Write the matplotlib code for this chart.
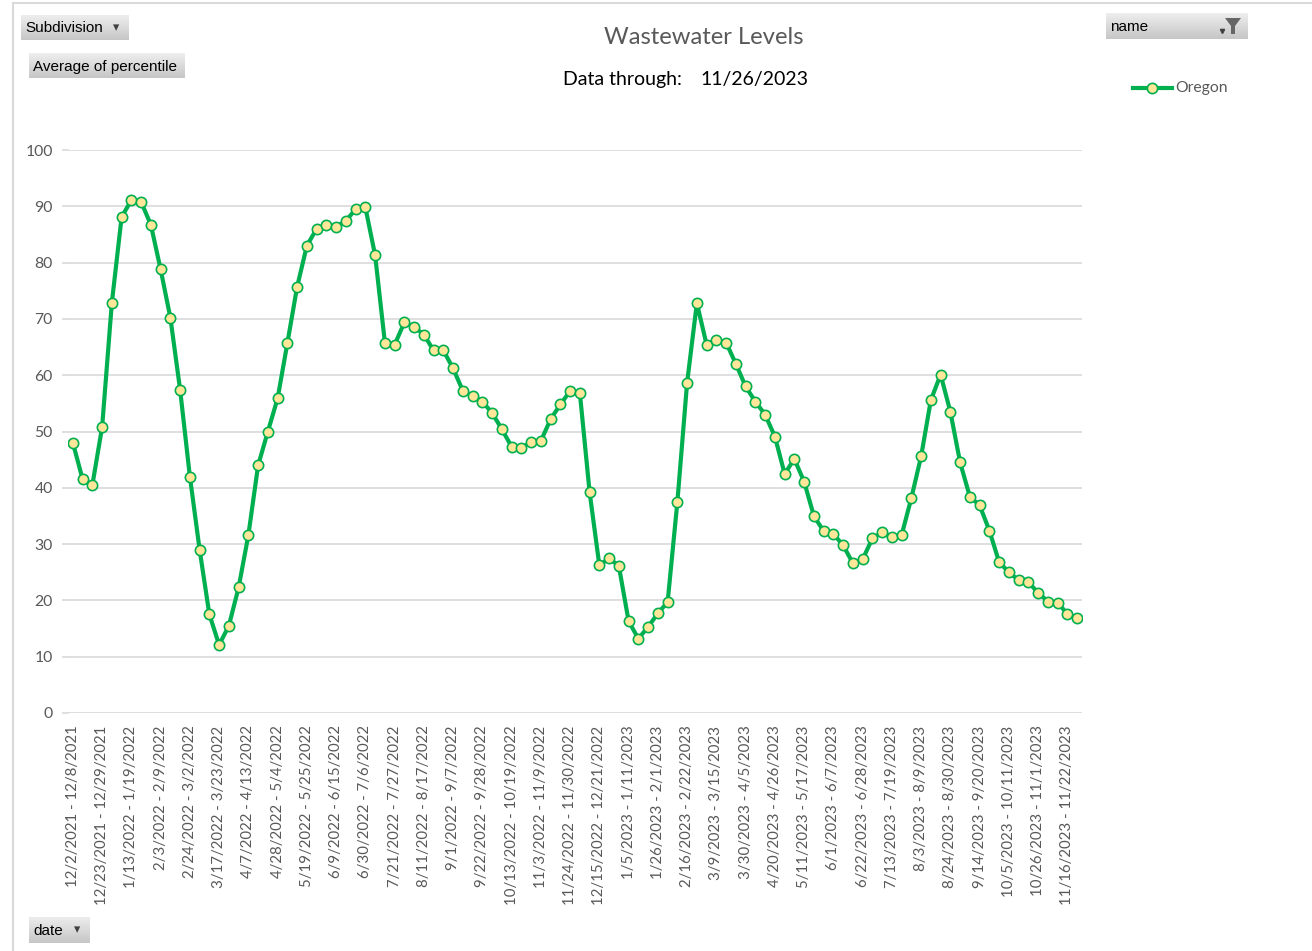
import matplotlib
matplotlib.use("Agg")
import matplotlib.pyplot as plt
import numpy as np
from matplotlib.lines import Line2D
from matplotlib.patches import Polygon

# ---------------- data ----------------
series_name = "Oregon"
values = [48.0, 41.5, 40.5, 50.8, 72.9, 88.1, 91.1, 90.8, 86.7, 78.8,
          70.2, 57.4, 42.0, 29.0, 17.5, 12.1, 15.5, 22.3, 31.6, 44.0,
          50.0, 55.9, 65.7, 75.7, 83.0, 86.0, 86.7, 86.4, 87.4, 89.5,
          89.8, 81.3, 65.8, 65.4, 69.4, 68.6, 67.2, 64.4, 64.4, 61.2,
          57.2, 56.3, 55.3, 53.3, 50.4, 47.3, 47.1, 48.1, 48.3, 52.2,
          54.8, 57.2, 56.8, 39.2, 26.2, 27.5, 26.1, 16.3, 13.2, 15.3,
          17.7, 19.7, 37.5, 58.7, 72.8, 65.4, 66.3, 65.8, 62.0, 58.0,
          55.3, 53.0, 49.1, 42.5, 45.1, 41.1, 35.0, 32.3, 31.8, 29.8,
          26.6, 27.3, 31.0, 32.1, 31.2, 31.6, 38.2, 45.6, 55.6, 60.1,
          53.5, 44.5, 38.4, 36.9, 32.4, 26.8, 25.0, 23.6, 23.2, 21.4,
          19.8, 19.6, 17.6, 16.8]
tick_labels = [
    "12/2/2021 - 12/8/2021", "12/23/2021 - 12/29/2021", "1/13/2022 - 1/19/2022",
    "2/3/2022 - 2/9/2022", "2/24/2022 - 3/2/2022", "3/17/2022 - 3/23/2022",
    "4/7/2022 - 4/13/2022", "4/28/2022 - 5/4/2022", "5/19/2022 - 5/25/2022",
    "6/9/2022 - 6/15/2022", "6/30/2022 - 7/6/2022", "7/21/2022 - 7/27/2022",
    "8/11/2022 - 8/17/2022", "9/1/2022 - 9/7/2022", "9/22/2022 - 9/28/2022",
    "10/13/2022 - 10/19/2022", "11/3/2022 - 11/9/2022", "11/24/2022 - 11/30/2022",
    "12/15/2022 - 12/21/2022", "1/5/2023 - 1/11/2023", "1/26/2023 - 2/1/2023",
    "2/16/2023 - 2/22/2023", "3/9/2023 - 3/15/2023", "3/30/2023 - 4/5/2023",
    "4/20/2023 - 4/26/2023", "5/11/2023 - 5/17/2023", "6/1/2023 - 6/7/2023",
    "6/22/2023 - 6/28/2023", "7/13/2023 - 7/19/2023", "8/3/2023 - 8/9/2023",
    "8/24/2023 - 8/30/2023", "9/14/2023 - 9/20/2023", "10/5/2023 - 10/11/2023",
    "10/26/2023 - 11/1/2023", "11/16/2023 - 11/22/2023"]
y_ticks = [0, 10, 20, 30, 40, 50, 60, 70, 80, 90, 100]
title = "Wastewater Levels"
subtitle_label = "Data through:"
subtitle_date = "11/26/2023"

# ---------------- figure ----------------
W, H = 1312, 951
fig = plt.figure(figsize=(W / 100, H / 100), dpi=100)
fig.patch.set_facecolor("white")

def fx(x):
    return x / W

def fy(y):
    return 1 - y / H

FONT = ["Lato", "DejaVu Sans"]
BTN_FONT = ["Liberation Sans Narrow", "Liberation Sans", "DejaVu Sans"]
GREY = "#595959"
GREEN = "#00B050"

# outer chart frame
fig.add_artist(Line2D([fx(13), fx(13)], [fy(3), fy(960)], color="#D9D9D9", lw=1.5,
                      transform=fig.transFigure))
fig.add_artist(Line2D([fx(13), fx(1320)], [fy(3), fy(3)], color="#D9D9D9", lw=1.5,
                      transform=fig.transFigure))

# plot area
left, right, top, bottom = 68, 1082, 150, 713
ax = fig.add_axes([fx(left), fy(bottom), fx(right) - fx(left), fy(top) - fy(bottom)])
x = np.arange(len(values))
ax.plot(x, values, color=GREEN, lw=3.0, marker="o", markersize=7.4,
        markerfacecolor="#FFE699", markeredgecolor=GREEN, markeredgewidth=1.2,
        solid_joinstyle="round", zorder=3)
ax.set_xlim(-0.5, len(values) - 0.5)
ax.set_ylim(0, 100)
ax.set_yticks(y_ticks)
ax.set_yticklabels([str(v) for v in y_ticks], family=FONT, fontsize=11.3, color=GREY)
ax.set_xticks(np.arange(0, len(values), 3))
ax.set_xticklabels(tick_labels, rotation=90, family=FONT, fontsize=10.8, color=GREY)
ax.tick_params(axis="both", length=0)
ax.tick_params(axis="y", pad=11)
ax.tick_params(axis="x", pad=9)
for s in ax.spines.values():
    s.set_visible(False)
ax.grid(axis="y", color="#D9D9D9", lw=1.2)
ax.set_axisbelow(True)
# extend gridlines slightly left like Excel
for v in y_ticks:
    fig.add_artist(Line2D([fx(63), fx(left)], [fy(713 - v * 5.63)] * 2, color="#D9D9D9",
                          lw=1.2, transform=fig.transFigure))

# titles
fig.text(fx(704), fy(37), title, ha="center", va="center", family=FONT, fontsize=17.2,
         color=GREY)
fig.text(fx(563), fy(80), subtitle_label, ha="left", va="center", family=FONT,
         fontsize=14, color="black")
fig.text(fx(700), fy(80), subtitle_date, ha="left", va="center", family=FONT,
         fontsize=14, color="black")

# legend
fig.add_artist(Line2D([fx(1133), fx(1172)], [fy(88), fy(88)], color=GREEN, lw=3.0,
                      transform=fig.transFigure))
fig.add_artist(Line2D([fx(1152)], [fy(88)], marker="o", markersize=7.4, color=GREEN,
                      markerfacecolor="#FFE699", markeredgecolor=GREEN,
                      markeredgewidth=1.2, transform=fig.transFigure))
fig.text(fx(1175), fy(88), series_name, ha="left", va="center", family=FONT,
         fontsize=11.3, color=GREY)

# buttons (pivot field buttons)
grad = np.linspace(0.93, 0.78, 20).reshape(-1, 1)

def button(x0, y0, x1, y1, label, arrow=True, filt=False):
    bax = fig.add_axes([fx(x0), fy(y1), fx(x1) - fx(x0), fy(y0) - fy(y1)])
    bax.imshow(np.dstack([grad, grad, grad]), aspect="auto", extent=[0, 1, 0, 1])
    bax.set_xlim(0, 1)
    bax.set_ylim(0, 1)
    bax.axis("off")
    fig.text(fx(x0 + 4), fy((y0 + y1) / 2 + 1), label, ha="left", va="center",
             family=BTN_FONT, fontsize=11, color="black")
    if arrow:
        fig.text(fx(x1 - 13), fy((y0 + y1) / 2), "\u25BE", ha="center", va="center",
                 family=["DejaVu Sans"], fontsize=9, color="#404040")
    if filt:
        cxp = x1 - 15
        cyp = (y0 + y1) / 2
        pts = [(cxp - 8, cyp - 8), (cxp + 8, cyp - 8), (cxp + 2, cyp), (cxp + 2, cyp + 8),
               (cxp - 2, cyp + 8), (cxp - 2, cyp)]
        fig.add_artist(Polygon([(fx(a), fy(b)) for a, b in pts], closed=True,
                               facecolor="#666666", edgecolor="none",
                               transform=fig.transFigure))
        fig.add_artist(Line2D([fx(cxp - 11)], [fy(cyp + 5)], marker="v", markersize=3,
                              color="#404040", transform=fig.transFigure))

button(21, 15, 129, 40, "Subdivision")
button(29, 53, 185, 78, "Average of percentile", arrow=False)
button(1106, 13, 1248, 39, "name", arrow=False, filt=True)
button(29, 917, 90, 943, "date")

fig.savefig("out.png", dpi=100, facecolor="white")
